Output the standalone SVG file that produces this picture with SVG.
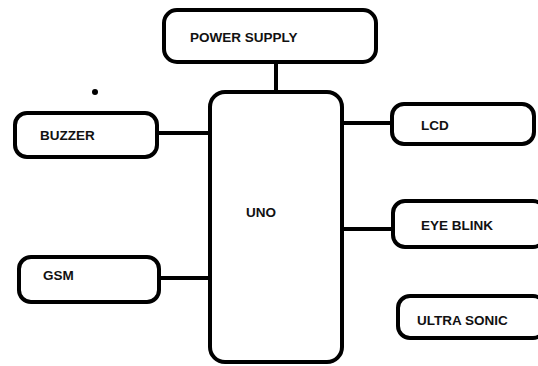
<svg xmlns="http://www.w3.org/2000/svg" width="538" height="366" viewBox="0 0 538 366">
<style>
.box{fill:#fff;stroke:#000;stroke-width:4}
.wire{stroke:#000;stroke-width:4;fill:none}
.lbl{font-family:"Liberation Sans",Arial,sans-serif;font-weight:bold;font-size:13.5px;fill:#111}
</style>
<rect width="538" height="366" fill="#fff"/>
<g id="connectors">
<line class="wire" x1="276" y1="62" x2="276" y2="92"/>
<line class="wire" x1="157" y1="133" x2="210" y2="133"/>
<line class="wire" x1="159" y1="278" x2="210" y2="278"/>
<line class="wire" x1="341" y1="123" x2="392" y2="123"/>
<line class="wire" x1="341" y1="229" x2="393" y2="229"/>
</g>
<g id="power-supply">
<rect class="box" x="164" y="10" width="212" height="52" rx="13"/>
<text class="lbl" x="190" y="42">POWER SUPPLY</text>
</g>
<g id="uno">
<rect class="box" x="210" y="92" width="132" height="270" rx="15"/>
<text class="lbl" x="246" y="217">UNO</text>
</g>
<g id="buzzer">
<rect class="box" x="15" y="113" width="142" height="44" rx="12"/>
<text class="lbl" x="40" y="140">BUZZER</text>
</g>
<g id="gsm">
<rect class="box" x="19" y="257" width="140" height="45" rx="12"/>
<text class="lbl" x="43" y="280">GSM</text>
</g>
<g id="lcd">
<rect class="box" x="392" y="104" width="142" height="40" rx="12"/>
<text class="lbl" x="421" y="130">LCD</text>
</g>
<g id="eye-blink">
<rect class="box" x="393" y="201" width="152" height="46" rx="12"/>
<text class="lbl" x="421" y="230">EYE BLINK</text>
</g>
<g id="ultra-sonic">
<rect class="box" x="398" y="296" width="147" height="42" rx="12"/>
<text class="lbl" x="417" y="325">ULTRA SONIC</text>
</g>
<circle cx="95" cy="92" r="3" fill="#000"/>
</svg>
